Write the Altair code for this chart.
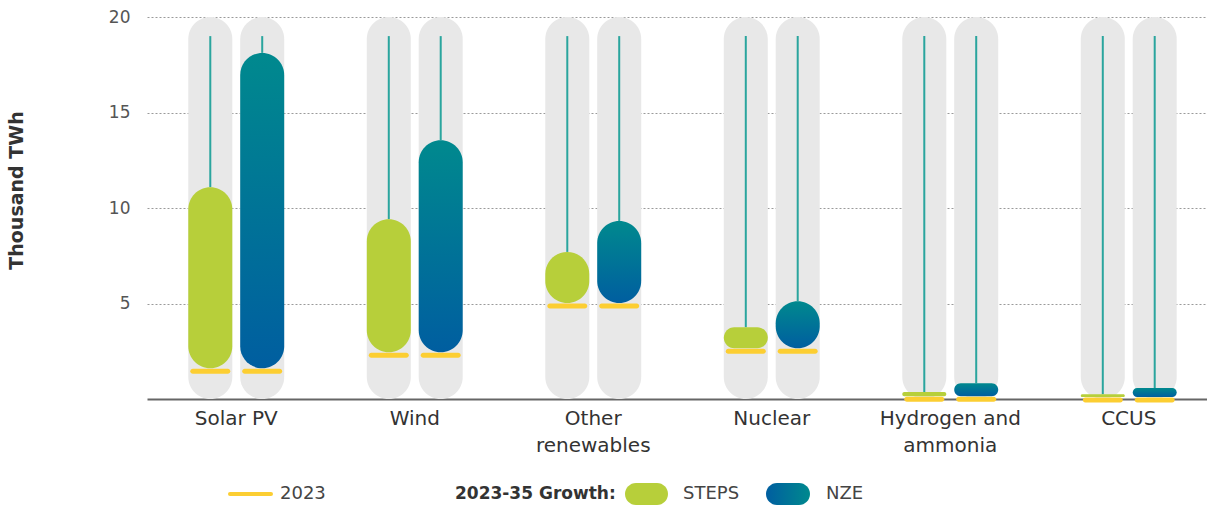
import altair as alt
import pandas as pd

# Electricity generation, thousand TWh
categories = ["Solar PV", "Wind", "Other renewables", "Nuclear",
              "Hydrogen and ammonia", "CCUS"]
gen_2023 = [1.61, 2.45, 5.02, 2.66, 0.15, 0.10]
steps_2035 = [11.09, 9.41, 7.70, 3.76, 0.36, 0.25]
nze_2035 = [18.12, 13.55, 9.32, 5.12, 0.83, 0.57]
scenarios = ["STEPS", "NZE"]

y_ticks = [5, 10, 15, 20]
axis_max = 20
stem_top = 19

GREEN = "#B7CF3A"
YELLOW = "#FCCE32"
TEAL = "#00898E"
BLUE = "#005EA0"
STEM = "#2AA59E"
TRACK = "#E8E8E8"
FONT = "DejaVu Sans"

rows = []
for i, cat in enumerate(categories):
    rows.append({"category": cat, "scenario": "STEPS",
                 "start": gen_2023[i], "end": steps_2035[i]})
    rows.append({"category": cat, "scenario": "NZE",
                 "start": gen_2023[i], "end": nze_2035[i]})
df = pd.DataFrame(rows)

nze_fill = alt.Gradient(
    gradient="linear", x1=0, x2=0, y1=0, y2=1,
    stops=[alt.GradientStop(color=TEAL, offset=0),
           alt.GradientStop(color=BLUE, offset=1)],
)
nze_fill_h = alt.Gradient(
    gradient="linear", x1=0, x2=1, y1=0, y2=0,
    stops=[alt.GradientStop(color=BLUE, offset=0),
           alt.GradientStop(color=TEAL, offset=1)],
)

label_expr = (
    "datum.label == 'Other renewables' ? ['Other', 'renewables'] : "
    "datum.label == 'Hydrogen and ammonia' ? ['Hydrogen and', 'ammonia'] : "
    "datum.label"
)

x_enc = alt.X(
    "category:N", sort=categories, title=None,
    scale=alt.Scale(paddingInner=0, paddingOuter=0, range=[0, 1071]),
    axis=alt.Axis(labelAngle=0, labelExpr=label_expr, labelFontSize=20,
                  labelColor="#333333", labelFont=FONT, labelPadding=9,
                  labelLineHeight=27, ticks=False, domainColor="#666666",
                  domainWidth=2, grid=False),
)
xo_enc = alt.XOffset(
    "scenario:N", sort=scenarios,
    scale=alt.Scale(domain=scenarios, paddingInner=0, paddingOuter=0.719),
)
y_scale = alt.Scale(domain=[0, axis_max], nice=False)
y_axis = alt.Axis(
    values=y_ticks, title="Thousand TWh", titleFontSize=19,
    titleFontWeight="bold", titleColor="#333333", titleFont=FONT,
    titleAngle=-90, titleX=-125, titleY=173, titleAlign="center",
    titleBaseline="alphabetic",
    labelFontSize=17, labelColor="#555555", labelFont=FONT, labelPadding=17,
    ticks=False, domain=False, grid=True, gridDash=[2, 2],
    gridColor="#9A9A9A", gridWidth=1,
)

base = alt.Chart(df)

track = base.mark_bar(color=TRACK, cornerRadius=22, size=44).encode(
    x=x_enc, xOffset=xo_enc,
    y=alt.Y(datum=0, type="quantitative", scale=y_scale, axis=y_axis),
    y2=alt.Y2(datum=axis_max),
)

stem = base.mark_rule(color=STEM, strokeWidth=2).encode(
    x=x_enc, xOffset=xo_enc,
    y=alt.Y("end:Q", scale=y_scale),
    y2=alt.Y2(datum=stem_top),
)

steps_bar = base.transform_filter(alt.datum.scenario == "STEPS").mark_bar(
    color=GREEN, cornerRadius=22, size=44
).encode(
    x=x_enc, xOffset=xo_enc,
    y=alt.Y("start:Q", scale=y_scale), y2="end:Q",
)

nze_bar = base.transform_filter(alt.datum.scenario == "NZE").mark_bar(
    color=nze_fill, cornerRadius=22, size=44
).encode(
    x=x_enc, xOffset=xo_enc,
    y=alt.Y("start:Q", scale=y_scale), y2="end:Q",
)

base_year = base.mark_tick(
    color=YELLOW, opacity=1, thickness=5, size=40, cornerRadius=2.5,
    yOffset=3
).encode(
    x=x_enc, xOffset=xo_enc,
    y=alt.Y("start:Q", scale=y_scale),
)

# Legend row under the axis
one = pd.DataFrame({"k": [0]})
leg_y = 477
leg_line = alt.Chart(one).mark_rule(
    color=YELLOW, strokeWidth=4, strokeCap="round"
).encode(x=alt.value(83), x2=alt.value(124), y=alt.value(leg_y))
leg_2023 = alt.Chart(one).mark_text(
    align="left", baseline="middle", fontSize=18, font=FONT, color="#444444"
).encode(x=alt.value(133), y=alt.value(leg_y), text=alt.value("2023"))
leg_head = alt.Chart(one).mark_text(
    align="left", baseline="middle", fontSize=17, font=FONT,
    fontWeight="bold", color="#333333"
).encode(x=alt.value(308), y=alt.value(leg_y),
         text=alt.value("2023-35 Growth:"))
leg_green = alt.Chart(one).mark_bar(color=GREEN, cornerRadius=11).encode(
    x=alt.value(478), x2=alt.value(521),
    y=alt.value(leg_y - 11), y2=alt.value(leg_y + 11),
)
leg_steps = alt.Chart(one).mark_text(
    align="left", baseline="middle", fontSize=18, font=FONT, color="#444444"
).encode(x=alt.value(536), y=alt.value(leg_y), text=alt.value("STEPS"))
leg_blue = alt.Chart(one).mark_bar(color=nze_fill_h, cornerRadius=11).encode(
    x=alt.value(619), x2=alt.value(663),
    y=alt.value(leg_y - 11), y2=alt.value(leg_y + 11),
)
leg_nze = alt.Chart(one).mark_text(
    align="left", baseline="middle", fontSize=18, font=FONT, color="#444444"
).encode(x=alt.value(679), y=alt.value(leg_y), text=alt.value("NZE"))

chart = alt.layer(
    track, stem, steps_bar, nze_bar, base_year,
    leg_line, leg_2023, leg_head, leg_green, leg_steps, leg_blue, leg_nze,
).properties(
    width=1060, height=382,
    autosize=alt.AutoSizeParams(type="none"),
    padding={"left": 147, "top": 17, "right": 0, "bottom": 107},
    background="white",
).configure_view(stroke=None)

chart.save("out.html", embed_options={"renderer": "svg", "actions": False})
